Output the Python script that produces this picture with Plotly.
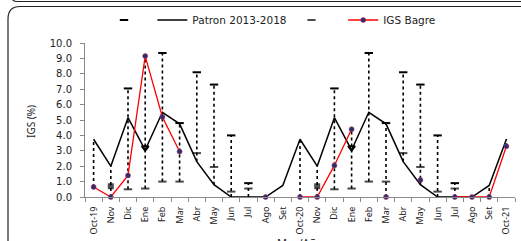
import plotly.graph_objects as go

# ---------------- data ----------------
months = ["Oct-19", "Nov", "Dic", "Ene", "Feb", "Mar", "Abr", "May", "Jun", "Jul", "Ago", "Set",
          "Oct-20", "Nov", "Dic", "Ene", "Feb", "Mar", "Abr", "May", "Jun", "Jul", "Ago", "Set",
          "Oct-21"]

patron = [3.75, 2.0, 5.15, 3.05, 5.5, 4.75, 2.3, 0.8, 0.0, 0.0, 0.0, 0.75,
          3.75, 2.0, 5.15, 3.05, 5.5, 4.75, 2.3, 0.8, 0.0, 0.0, 0.0, 0.75,
          3.75]

igs_bagre = [0.65, 0.0, 1.4, 9.15, 5.2, 2.95, None, None, None, None, 0.0, None,
             0.0, 0.0, 2.05, 4.4, None, 0.0, None, 1.1, None, 0.0, 0.0, 0.0,
             3.3]

serie_alta = [None, None, 7.05, 3.2, 9.35, 4.8, 8.1, 7.3, 4.0, 0.9, None, None,
              None, None, 7.05, 3.2, 9.35, 4.8, 8.1, 7.3, 4.0, 0.9, None, None,
              None]

serie_baja = [None, 0.7, 0.5, 0.55, 1.0, 1.0, 2.85, 1.95, 0.35, 0.55, None, None,
              None, 0.7, 0.5, 0.55, 1.0, 1.0, 2.85, 1.95, 0.35, 0.55, None, None,
              None]

y_ticks = [0, 1, 2, 3, 4, 5, 6, 7, 8, 9, 10]

# ---------------- helpers ----------------
xs = list(range(len(months)))
W, H = 521, 241
ML, MR, MT, MB = 85, 6, 43, 44
PW, PH = W - ML - MR, H - MT - MB


def px(x):
    return (x - ML) / PW


def py(y):
    return (H - MB - y) / PH


# high-low lines across all series (Excel style)
hl_x, hl_y = [], []
for i in xs:
    vals = [s[i] for s in (patron, igs_bagre, serie_alta, serie_baja) if s[i] is not None]
    if len(vals) >= 2:
        hl_x += [i, i, None]
        hl_y += [min(vals), max(vals), None]

sym_alta = ["triangle-down-open" if m == "Ene" else "line-ew" for m in months]
sym_baja = ["square" if m == "Nov" else "line-ew" for m in months]
size_baja = [4 if m == "Nov" else 6 for m in months]

fig = go.Figure()

fig.add_trace(go.Scatter(x=hl_x, y=hl_y, mode="lines", showlegend=False,
                         line=dict(color="black", width=1.6, dash="dot"),
                         hoverinfo="skip", cliponaxis=False))

fig.add_trace(go.Scatter(x=xs, y=patron, mode="lines", name="Patron 2013-2018",
                         line=dict(color="black", width=1.5), legendrank=2,
                         cliponaxis=False))

fig.add_trace(go.Scatter(x=xs, y=serie_alta, mode="markers", name=" ",
                         marker=dict(symbol=sym_alta, size=6, color="black",
                                     line=dict(color="black", width=2)),
                         legendrank=1, cliponaxis=False))

fig.add_trace(go.Scatter(x=xs, y=serie_baja, mode="markers", name="  ",
                         marker=dict(symbol=sym_baja, size=size_baja, color="black",
                                     line=dict(color="black", width=2)),
                         legendrank=3, cliponaxis=False))

fig.add_trace(go.Scatter(x=xs, y=igs_bagre, mode="lines+markers", name="IGS Bagre",
                         line=dict(color="#ff0000", width=1.3),
                         marker=dict(symbol="circle", size=5, color="#2a2f70",
                                     line=dict(color="#b03060", width=0.6)),
                         legendrank=4, cliponaxis=False, connectgaps=False))

font_main = "DejaVu Sans"

fig.update_layout(
    width=W, height=H, autosize=False,
    margin=dict(l=ML, r=MR, t=MT, b=MB, pad=0),
    paper_bgcolor="white", plot_bgcolor="white",
    font=dict(family=font_main, size=10, color="#222222"),
    showlegend=True,
    legend=dict(orientation="h", x=px(104), xanchor="left", y=py(20), yanchor="middle",
                font=dict(family=font_main, size=10.5, color="#222222"),
                bgcolor="rgba(0,0,0,0)", borderwidth=0, traceorder="normal"),
    xaxis=dict(range=[-0.5, len(months) - 0.5], tickmode="array", tickvals=xs,
               ticktext=months, tickangle=-90, ticks="", showgrid=False, zeroline=False,
               showline=True, linecolor="#8a8a8a", linewidth=1,
               tickfont=dict(family="Noto Sans", size=9, color="#222222"),
               ticklabelstandoff=5,
               minor=dict(tickmode="array", tickvals=[i - 0.5 for i in range(len(months) + 1)],
                          ticks="outside", ticklen=4, tickcolor="#8a8a8a", showgrid=False)),
    yaxis=dict(range=[0, 10], tickmode="array", tickvals=y_ticks, tickformat=".1f",
               ticks="outside", ticklen=4, tickcolor="#8a8a8a", showgrid=False,
               zeroline=False, showline=True, linecolor="#8a8a8a", linewidth=1,
               tickfont=dict(family=font_main, size=10, color="#222222"),
               ticklabelstandoff=6),
)

fig.add_annotation(text="IGS (%)", xref="paper", yref="paper", x=px(31), y=py(121),
                   textangle=-90, showarrow=False, xanchor="center", yanchor="middle",
                   font=dict(family="Noto Sans", size=10, color="#222222"))
fig.add_annotation(text="Mes/Año", xref="paper", yref="paper", x=px(300), y=py(242),
                   showarrow=False, xanchor="center", yanchor="middle",
                   font=dict(family="Noto Sans", size=11, color="#222222"))

# chart frame (rounded chart-area border and the outer frame line)
fig.add_shape(type="path", xref="paper", yref="paper",
              path=f"M {px(8)},{py(260)} L {px(8)},{py(19)} Q {px(8)},{py(6.5)} {px(20)},{py(6.5)} L {px(530)},{py(6.5)}",
              line=dict(color="#222222", width=1.2), layer="above")
fig.add_shape(type="path", xref="paper", yref="paper",
              path=f"M {px(12)},{py(-3)} Q {px(12)},{py(1.5)} {px(17)},{py(1.5)} L {px(530)},{py(1.5)}",
              line=dict(color="#222222", width=1.2), layer="above")

fig.write_html("out.html",
               config={"displayModeBar": False},
               post_script="document.body.style.margin='0';document.body.style.padding='0';")
